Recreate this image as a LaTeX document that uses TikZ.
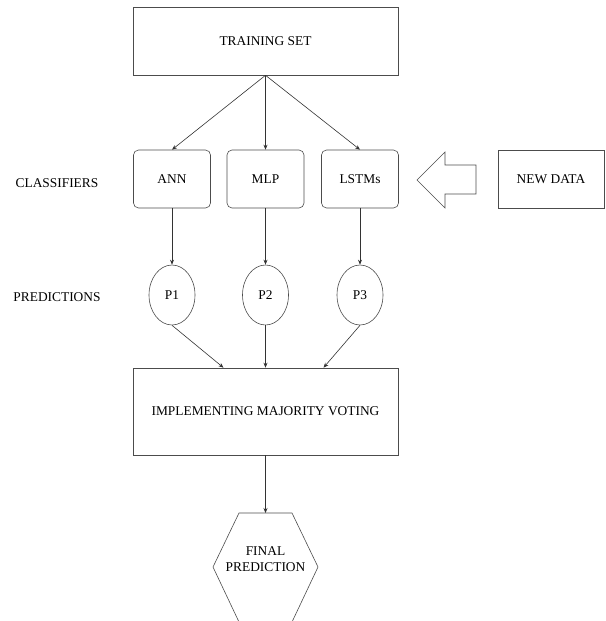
\documentclass[tikz,border=0pt]{standalone}
\usepackage{amsmath}
\usepackage{fontspec}
\setmainfont{Liberation Serif}
\usetikzlibrary{shapes.geometric,arrows.meta}

\begin{document}
\begin{tikzpicture}[x=1pt,y=-1pt,
    font=\fontsize{13.4}{16}\selectfont,
    block/.style={draw=black!70, line width=0.6pt, inner sep=0pt},
    classbox/.style={block, rounded corners=5pt, minimum width=77pt, minimum height=58pt},
    pred/.style={block, ellipse, minimum width=46pt, minimum height=60pt},
    link/.style={draw=black!80, line width=0.6pt, -{Stealth[length=5pt,width=4pt]}}]
    % Page frame, same size as the reference
    \useasboundingbox (0,0) rectangle (605,621);

    % Training set on top
    \node[block, minimum width=265pt, minimum height=68pt] (train) at (265.5,41) {TRAINING SET};

    % Classifiers row
    \node[classbox] (ann) at (172,179) {ANN};
    \node[classbox] (mlp) at (265.5,179) {MLP};
    \node[classbox] (lstm) at (360,179) {LSTMs};
    \node (classlabel) at (57,183) {CLASSIFIERS};

    % New data and the block arrow pointing at the classifiers
    \node[block, minimum width=106pt, minimum height=58pt] (newdata) at (551,179) {NEW DATA};
    \draw[draw=black!70, line width=0.6pt] (417,180) -- (445,152) -- (445,165) -- (476,165)
        -- (476,194) -- (445,194) -- (445,208) -- cycle;

    % Predictions row
    \node[pred] (p1) at (172,295) {P1};
    \node[pred] (p2) at (265.5,295) {P2};
    \node[pred] (p3) at (360,295) {P3};
    \node (predlabel) at (57,297) {PREDICTIONS};

    % Voting box
    \node[block, minimum width=265pt, minimum height=87pt] (vote) at (265.5,411.5) {IMPLEMENTING MAJORITY VOTING};

    % Final prediction hexagon (bottom edge runs off the page)
    \coordinate (hextop) at (265.5,513);
    \draw[draw=black!70, line width=0.6pt] (239,513) -- (292,513) -- (318,567) -- (292,622)
        -- (239,622) -- (213,567) -- cycle;
    \node[align=center] (final) at (265.5,559) {FINAL\\PREDICTION};

    % Connectors
    \draw[link] (train.south) -- (ann.north);
    \draw[link] (train.south) -- (mlp.north);
    \draw[link] (train.south) -- (lstm.north);
    \draw[link] (ann) -- (p1);
    \draw[link] (mlp) -- (p2);
    \draw[link] (lstm) -- (p3);
    \draw[link] (p1.south) -- ([xshift=-42pt]vote.north);
    \draw[link] (p2.south) -- (vote.north);
    \draw[link] (p3.south) -- ([xshift=58pt]vote.north);
    \draw[link] (vote.south) -- (hextop);

\end{tikzpicture}
\end{document}
